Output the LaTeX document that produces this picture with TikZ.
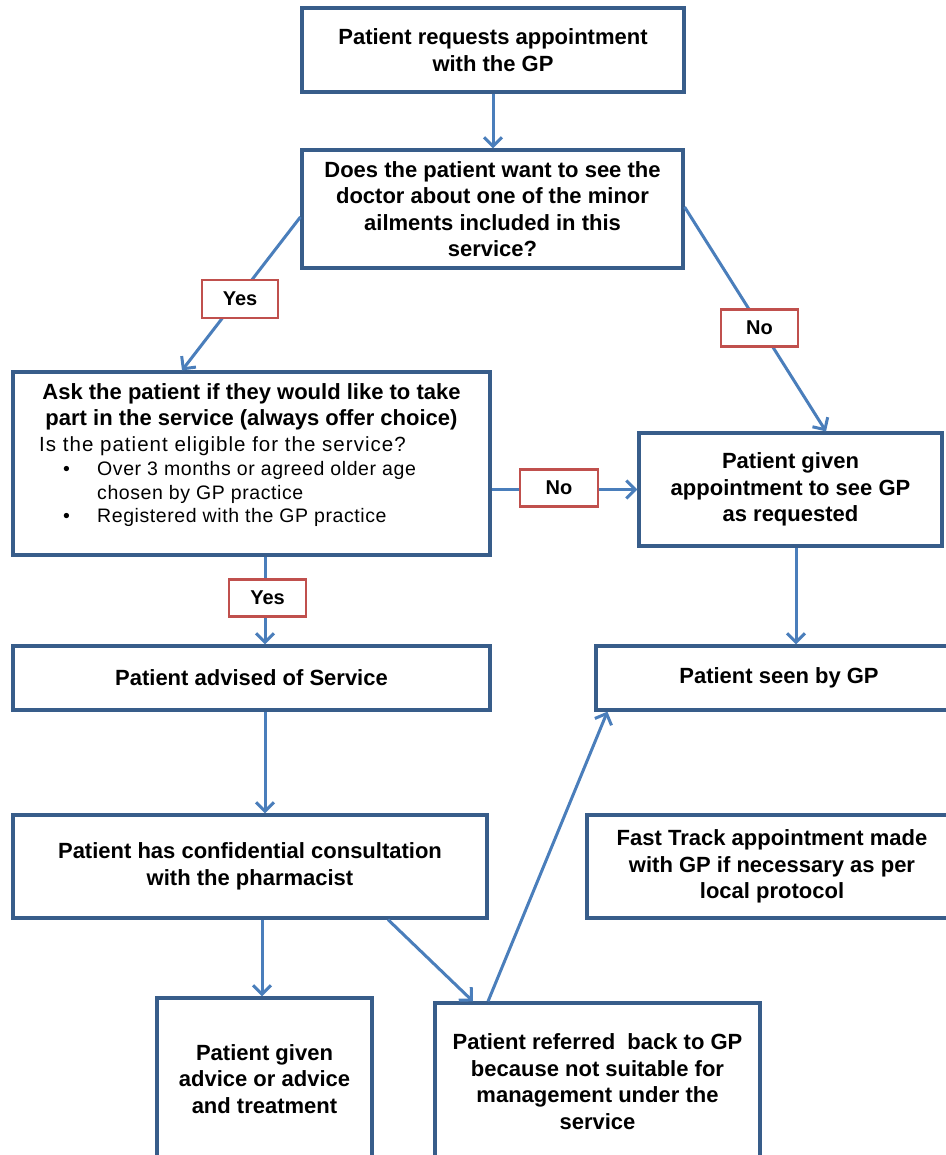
\documentclass[tikz,border=0pt]{standalone}
\usepackage{fontspec}
\setmainfont{Liberation Sans}
\usetikzlibrary{arrows.meta}
\definecolor{boxblue}{RGB}{56,93,138}
\definecolor{arrblue}{RGB}{74,126,187}
\definecolor{lblred}{RGB}{192,80,77}
\begin{document}
\begin{tikzpicture}[x=1pt,y=-1pt,
  box/.style={draw=boxblue, line width=3.2pt, inner sep=0pt, align=center,
    font=\fontsize{22}{26.5}\selectfont\bfseries},
  lbl/.style={draw=lblred, line width=2.6pt, fill=white, inner sep=0pt,
    minimum width=77pt, minimum height=37pt, font=\fontsize{20}{24}\selectfont\bfseries},
  conn/.style={draw=arrblue, line width=3pt, -{Straight Barb[length=9pt,width=18pt]}},
  boldline/.style={inner sep=0pt, anchor=base, font=\fontsize{22}{25}\selectfont\bfseries},
  plain/.style={inner sep=0pt, anchor=base west, font=\fontsize{20.5}{24}\selectfont\addfontfeature{LetterSpace=5}},
  small/.style={inner sep=0pt, anchor=base west, font=\fontsize{19.5}{22}\selectfont\addfontfeature{LetterSpace=3}}
]
\useasboundingbox (0,0) rectangle (945,1155);
\fill[white] (0,0) rectangle (945,1155);

\node[box, minimum width=382pt, minimum height=84pt] (top) at (493,50)
  {Patient requests appointment\\with the GP};
\node[box, minimum width=381pt, minimum height=118pt] (dec) at (492.5,209)
  {Does the patient want to see the\\doctor about one of the minor\\ailments included in this\\service?};
\node[box, minimum width=477pt, minimum height=183pt] (ask) at (251.5,463.5) {};
\node[boldline] (ask1) at (251.5,399) {Ask the patient if they would like to take};
\node[boldline] (ask2) at (251.5,425) {part in the service (always offer choice)};
\node[plain] (askq) at (39,451) {Is the patient eligible for the service?};
\node[small] (b1) at (63,475) {\textbullet};
\node[small] (b1t) at (97,475) {Over 3 months or agreed older age};
\node[small] (b1u) at (97,499) {chosen by GP practice};
\node[small] (b2) at (63,522) {\textbullet};
\node[small] (b2t) at (97,522) {Registered with the GP practice};

\node[box, minimum width=303pt, minimum height=113pt] (appt) at (790.5,489.5)
  {Patient given\\appointment to see GP\\as requested};
\node[box, minimum width=477pt, minimum height=64pt] (adv) at (251.5,678)
  {Patient advised of Service};
\node[box, minimum width=366pt, minimum height=64pt] (seen) at (779,678)
  {Patient seen by GP};
\node[box, minimum width=474pt, minimum height=103pt] (cons) at (250,866.5)
  {Patient has confidential consultation\\with the pharmacist};
\node[box, minimum width=370pt, minimum height=103pt] (fast) at (772,866.5)
  {Fast Track appointment made\\with GP if necessary as per\\local protocol};
\node[box, minimum width=215pt, minimum height=162pt] (advice) at (264.5,1079)
  {Patient given\\advice or advice\\and treatment};
\node[box, minimum width=325pt, minimum height=157pt] (ref) at (597.5,1081.5)
  {Patient referred\ \ back to GP\\because not suitable for\\management under the\\service};

\draw[conn] (top.south) -- (top.south |- dec.north);
\draw[conn] ([yshift=-8pt]dec.west) -- ([xshift=-69.5pt]ask.north);
\draw[conn] ([yshift=2pt]dec.east) -- ([xshift=35.5pt]appt.north);
\draw[conn] (appt.west -| ask.east) -- (appt.west);
\draw[conn] ([xshift=13.5pt]ask.south) -- ([xshift=13.5pt]adv.north);
\draw[conn] ([xshift=5.5pt]appt.south) -- ([xshift=17pt]seen.north);
\draw[conn] ([xshift=13.5pt]adv.south) -- ([xshift=15pt]cons.north);
\draw[conn] ([xshift=12pt]cons.south) -- ([xshift=-2.5pt]advice.north);
\draw[conn] ([xshift=138pt]cons.south) -- ([xshift=-124.5pt]ref.north);
\draw[conn] ([xshift=-109.5pt]ref.north) -- ([xshift=13pt]seen.south west);

\node[lbl, minimum width=76pt, minimum height=38pt] (yes1) at (240,299) {Yes};
\node[lbl] (no1) at (759.5,328) {No};
\node[lbl, minimum width=78pt] (no2) at (559,488) {No};
\node[lbl] (yes2) at (267.5,598) {Yes};
\end{tikzpicture}
\end{document}
